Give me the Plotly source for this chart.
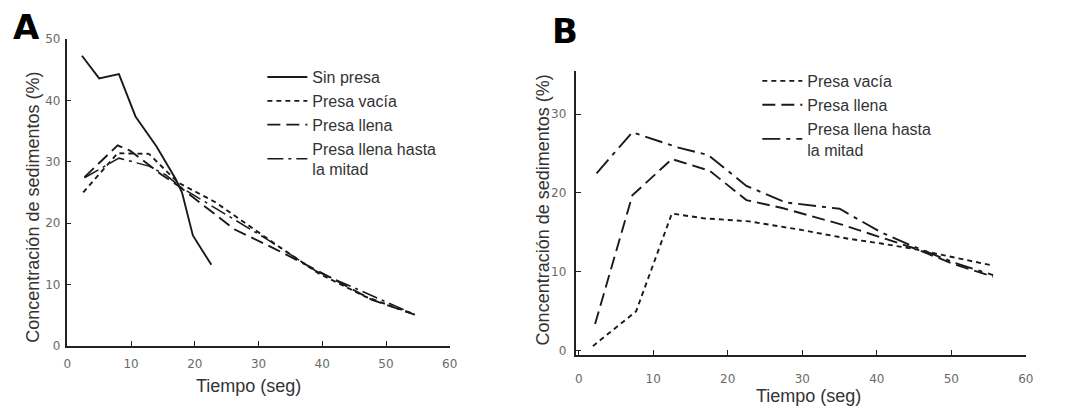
import plotly.graph_objects as go

# ---------------- Panel A data ----------------
a_sin_x = [2.3, 5.0, 8.1, 10.7, 14.0, 17.0, 18.0, 19.7, 22.6]
a_sin_y = [47.3, 43.6, 44.3, 37.4, 32.5, 27.2, 25.0, 18.0, 13.2]

a_vac_x = [2.5, 7.9, 12.8, 15.6, 17.4, 23.1, 32.9, 39.6, 46.8, 54.5]
a_vac_y = [25.0, 31.4, 31.3, 28.5, 26.6, 23.5, 16.4, 11.7, 8.0, 5.1]

a_lle_x = [2.7, 7.9, 9.9, 14.8, 17.4, 26.2, 32.4, 39.0, 47.8, 54.5]
a_lle_y = [27.5, 32.7, 31.8, 27.9, 26.1, 19.0, 15.9, 12.4, 7.5, 5.1]

a_mit_x = [2.7, 8.1, 12.8, 15.4, 17.9, 31.3, 39.0, 54.5]
a_mit_y = [27.4, 30.6, 29.3, 27.9, 25.8, 17.4, 12.2, 5.1]

# ---------------- Panel B data ----------------
b_vac_x = [1.9, 7.7, 12.5, 16.7, 22.9, 30.0, 36.2, 40.6, 45.0, 55.6]
b_vac_y = [0.6, 5.0, 17.4, 16.8, 16.4, 15.3, 14.2, 13.6, 12.9, 10.8]

b_lle_x = [2.2, 7.2, 12.5, 17.6, 22.5, 27.3, 35.3, 40.6, 45.0, 50.3, 55.6]
b_lle_y = [3.4, 19.7, 24.3, 22.8, 19.1, 18.1, 16.0, 14.4, 13.0, 11.0, 9.4]

b_mit_x = [2.4, 7.2, 13.2, 17.4, 22.5, 27.8, 35.0, 40.6, 45.0, 50.3, 55.6]
b_mit_y = [22.5, 27.7, 25.8, 24.8, 20.9, 18.8, 18.0, 15.0, 13.2, 11.2, 9.6]

x_ticks = [0, 10, 20, 30, 40, 50, 60]
a_y_ticks = [0, 10, 20, 30, 40, 50]
b_y_ticks = [0, 10, 20, 30]

names = ["Sin presa", "Presa vacía", "Presa llena", "Presa llena hasta<br>la mitad"]
x_title = "Tiempo (seg)"
y_title = "Concentración de sedimentos (%)"

LC = "#1a1a1a"
W = 1.9
dash_solid = "solid"
dash_short = "5px,4px"
dash_long = "13px,6px"
dash_dd = "16px,5px,3px,5px"

fig = go.Figure()

# Panel A
fig.add_trace(go.Scatter(x=a_sin_x, y=a_sin_y, mode="lines", name=names[0],
                         line=dict(color=LC, width=W, dash=dash_solid),
                         xaxis="x", yaxis="y", legend="legend"))
fig.add_trace(go.Scatter(x=a_vac_x, y=a_vac_y, mode="lines", name=names[1],
                         line=dict(color=LC, width=W, dash=dash_short),
                         xaxis="x", yaxis="y", legend="legend"))
fig.add_trace(go.Scatter(x=a_lle_x, y=a_lle_y, mode="lines", name=names[2],
                         line=dict(color=LC, width=W, dash=dash_long),
                         xaxis="x", yaxis="y", legend="legend"))
fig.add_trace(go.Scatter(x=a_mit_x, y=a_mit_y, mode="lines", name=names[3],
                         line=dict(color=LC, width=1.5, dash=dash_dd),
                         xaxis="x", yaxis="y", legend="legend"))

# Panel B
fig.add_trace(go.Scatter(x=b_vac_x, y=b_vac_y, mode="lines", name=names[1],
                         line=dict(color=LC, width=W, dash=dash_short),
                         xaxis="x2", yaxis="y2", legend="legend2"))
fig.add_trace(go.Scatter(x=b_lle_x, y=b_lle_y, mode="lines", name=names[2],
                         line=dict(color=LC, width=W, dash=dash_long),
                         xaxis="x2", yaxis="y2", legend="legend2"))
fig.add_trace(go.Scatter(x=b_mit_x, y=b_mit_y, mode="lines", name=names[3],
                         line=dict(color=LC, width=W, dash="18px,6px,4px,6px"),
                         xaxis="x2", yaxis="y2", legend="legend2"))

TICKFONT = dict(family="DejaVu Sans", size=12, color="#6a6a6a")
TITLEFONT = dict(family="Liberation Sans, Arial", size=18, color="#333333")
LEGFONT = dict(family="Liberation Sans, Arial", size=16, color="#333333")

H = 413.0
Wd = 1091.0

axis_common = dict(showgrid=False, zeroline=False, showline=True, linecolor="#222",
                   linewidth=1.5, ticks="inside", ticklen=5, tickcolor="#222",
                   tickwidth=1.3, tickfont=TICKFONT, mirror=False)


def px_x(p):
    return p / Wd


def px_y(p):
    return 1 - p / H


fig.update_layout(
    width=1091, height=413,
    margin=dict(l=0, r=0, t=0, b=0),
    paper_bgcolor="white", plot_bgcolor="white",
    showlegend=True,
    xaxis=dict(domain=[px_x(64.3), px_x(451.3)], range=[-0.1, 60], tickvals=x_ticks,
               anchor="y", ticklabelstandoff=6, **axis_common),
    yaxis=dict(domain=[px_y(350.7), px_y(33.3)], range=[0, 50], tickvals=a_y_ticks,
               anchor="x", ticklabelstandoff=2, **axis_common),
    xaxis2=dict(domain=[px_x(579.3), px_x(1033.3)], range=[-0.3, 60], tickvals=x_ticks,
                anchor="y2", ticklabelstandoff=12, **axis_common),
    yaxis2=dict(domain=[px_y(360), px_y(66.7)], range=[-0.5, 35.4], tickvals=b_y_ticks,
                anchor="x2", ticklabelstandoff=6, **axis_common),
    legend=dict(x=px_x(262), y=px_y(55), xanchor="left", yanchor="top",
                bgcolor="rgba(0,0,0,0)", font=LEGFONT,
                tracegroupgap=0, itemwidth=40),
    legend2=dict(x=px_x(762), y=px_y(59), xanchor="left", yanchor="top",
                 bgcolor="rgba(0,0,0,0)", font=LEGFONT,
                 tracegroupgap=0, itemwidth=40),
    annotations=[
        dict(text="<b>A</b>", x=px_x(23.5), y=px_y(21), xref="paper", yref="paper",
             xanchor="center", yanchor="middle", showarrow=False,
             font=dict(family="DejaVu Sans", size=34, color="black")),
        dict(text="<b>B</b>", x=px_x(567.5), y=px_y(25), xref="paper", yref="paper",
             xanchor="center", yanchor="middle", showarrow=False,
             font=dict(family="DejaVu Sans", size=34, color="black")),
        # axis titles
        dict(text=x_title, x=px_x(248), y=px_y(392), xref="paper", yref="paper",
             xanchor="center", yanchor="middle", showarrow=False, font=TITLEFONT),
        dict(text=y_title, x=px_x(30), y=px_y(207), xref="paper", yref="paper",
             xanchor="center", yanchor="middle", showarrow=False, textangle=-90,
             font=TITLEFONT),
        dict(text=x_title, x=px_x(814), y=px_y(403), xref="paper", yref="paper",
             xanchor="center", yanchor="middle", showarrow=False, font=TITLEFONT),
        dict(text=y_title, x=px_x(545), y=px_y(210), xref="paper", yref="paper",
             xanchor="center", yanchor="middle", showarrow=False, textangle=-90,
             font=TITLEFONT),
    ],
)

fig.write_html("out.html")
